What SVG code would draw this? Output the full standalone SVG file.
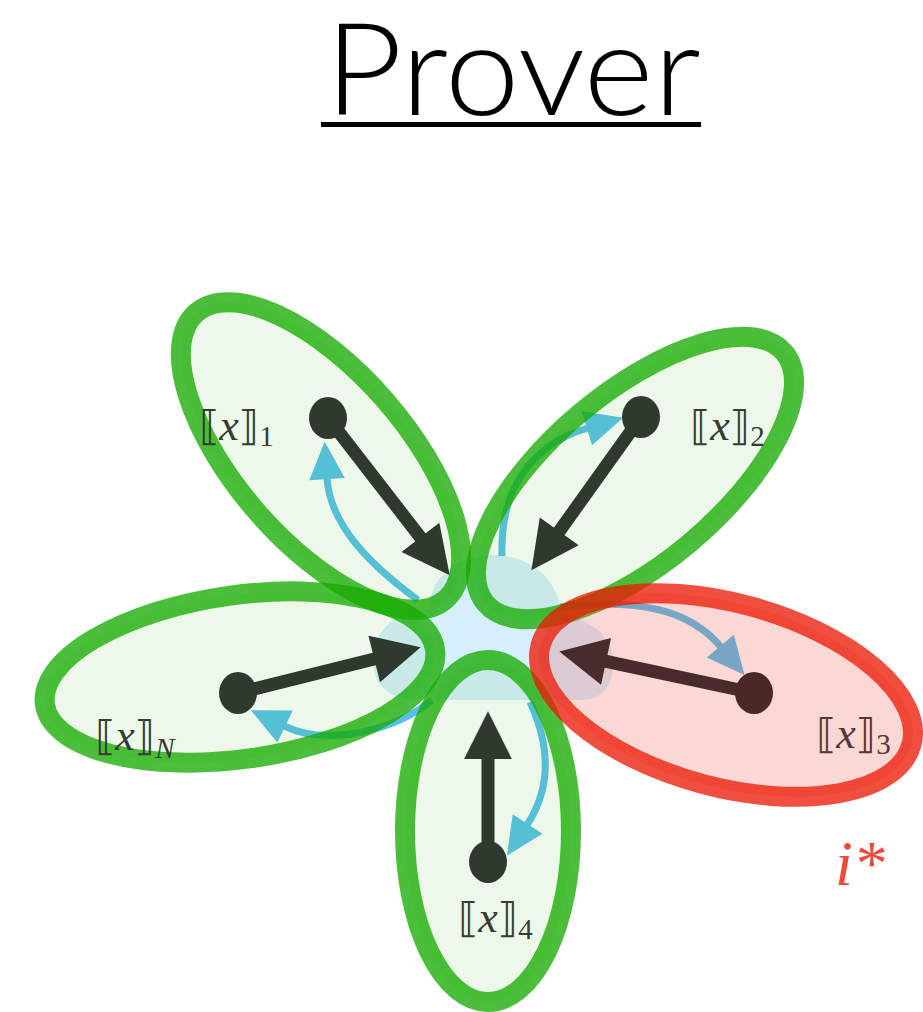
<svg xmlns="http://www.w3.org/2000/svg" width="923" height="1012" viewBox="0 0 923 1012">
<style>
.petal{fill:#4cbf30;fill-opacity:0.1;stroke:#15aa00;stroke-opacity:0.77;stroke-width:20}
.petal-red{fill:#f04e3e;fill-opacity:0.22;stroke:#eb1a05;stroke-opacity:0.77;stroke-width:20}
.blue{fill:none;stroke:#56c0e8;stroke-width:7;marker-end:url(#bh)}
.dark{fill:none;stroke:#2f3a2f;stroke-width:13;marker-end:url(#dh)}
.darkred{fill:none;stroke:#4a2b2b;stroke-width:13;marker-end:url(#rh)}
.node{fill:#2f3a2f}
.lbl{font-family:"Liberation Serif","DejaVu Serif",serif;font-size:44px;fill:#333d33}
.br{font-family:"DejaVu Serif","DejaVu Sans",serif;font-size:41px}
.it{font-family:"Liberation Serif",serif;font-style:italic}
.sub{font-family:"Liberation Serif",serif;font-size:29px}
</style>
<defs>
<marker id="bh" markerUnits="userSpaceOnUse" markerWidth="40" markerHeight="40" viewBox="0 -17 36 34" refX="1" refY="0" orient="auto" overflow="visible"><path d="M0,-16 L34,0 L0,16 z" fill="#56c0e8"/></marker>
<marker id="dh" markerUnits="userSpaceOnUse" markerWidth="50" markerHeight="50" viewBox="0 -23 46 46" refX="1" refY="0" orient="auto" overflow="visible"><path d="M0,-22 L44,0 L0,22 z" fill="#2f3a2f"/></marker>
<marker id="rh" markerUnits="userSpaceOnUse" markerWidth="50" markerHeight="50" viewBox="0 -23 46 46" refX="1" refY="0" orient="auto" overflow="visible"><path d="M0,-22 L44,0 L0,22 z" fill="#4a2b2b"/></marker>
</defs>
<rect width="923" height="1012" fill="#ffffff"/>
<g id="title">
<text x="325" y="115" font-family="Lato, 'Open Sans', sans-serif" font-weight="300" font-size="128" textLength="376" lengthAdjust="spacingAndGlyphs" fill="#000000">Prover</text>
<rect x="321" y="122" width="380" height="5" fill="#000000"/>
</g>
<g id="hub">
<path d="M430,608 C430,575 460,555 493,555 C526,555 556,575 560,608 L590,625 C610,635 615,655 613,670 C610,690 600,700 580,700 L420,700 C395,700 373,690 373,660 C373,630 395,612 430,608 Z" fill="#d6effc"/>
</g>
<g id="connectors-blue">
<path class="blue" d="M418,600 C370,565 330,525 327,478"/>
<path class="blue" d="M502,556 C500,490 530,445 588,428"/>
<path class="blue" d="M560,607 C640,598 690,610 721,647"/>
<path class="blue" d="M432,700 C400,728 330,748 284,726"/>
<path class="blue" d="M530,702 C552,750 550,790 527,825"/>
</g>
<g id="petal-1"><ellipse class="petal" cx="321" cy="456" rx="190" ry="85" transform="rotate(49 321 456)"/></g>
<g id="petal-2"><ellipse class="petal" cx="635" cy="478" rx="195" ry="85" transform="rotate(-40 635 478)"/></g>
<g id="petal-N"><ellipse class="petal" cx="240" cy="677" rx="197" ry="82" transform="rotate(-8 240 677)"/></g>
<g id="petal-4"><ellipse class="petal" cx="488" cy="831" rx="83" ry="171"/></g>
<g id="petal-3"><ellipse class="petal-red" cx="726" cy="695" rx="192" ry="92" transform="rotate(15 726 695)"/></g>
<g id="connectors-dark">
<path class="dark" d="M328,418 L421.1,538.2"/>
<path class="dark" d="M641,417 L558.6,532.2"/>
<path class="dark" d="M238,693 L375.3,658.7"/>
<path class="dark" d="M488,862 L488,758"/>
<path class="darkred" d="M754,693 L605,661.2"/>
</g>
<g id="node-1"><ellipse class="node" cx="328" cy="418" rx="19" ry="21"/>
<text class="lbl" x="199" y="440"><tspan class="br">⟦</tspan><tspan class="it">x</tspan><tspan class="br">⟧</tspan><tspan class="sub" dy="6">1</tspan></text></g>
<g id="node-2"><ellipse class="node" cx="641" cy="417" rx="19" ry="21"/>
<text class="lbl" x="690" y="440"><tspan class="br">⟦</tspan><tspan class="it">x</tspan><tspan class="br">⟧</tspan><tspan class="sub" dy="6">2</tspan></text></g>
<g id="node-N"><ellipse class="node" cx="238" cy="693" rx="19" ry="21"/>
<text class="lbl" x="95" y="750"><tspan class="br">⟦</tspan><tspan class="it">x</tspan><tspan class="br">⟧</tspan><tspan class="sub it" dy="8">N</tspan></text></g>
<g id="node-4"><ellipse class="node" cx="488" cy="862" rx="19" ry="21"/>
<text class="lbl" x="458" y="932"><tspan class="br">⟦</tspan><tspan class="it">x</tspan><tspan class="br">⟧</tspan><tspan class="sub" dy="7">4</tspan></text></g>
<g id="node-3"><ellipse cx="754" cy="693" rx="19" ry="21" fill="#4a2828"/>
<text class="lbl" x="816" y="748" style="fill:#5a3535"><tspan class="br">⟦</tspan><tspan class="it">x</tspan><tspan class="br">⟧</tspan><tspan class="sub" dy="6">3</tspan></text></g>
<g id="istar"><text x="835" y="885" font-family="'Liberation Serif', serif" font-style="italic" font-size="64" fill="#f04a3a">i*</text></g>
</svg>
